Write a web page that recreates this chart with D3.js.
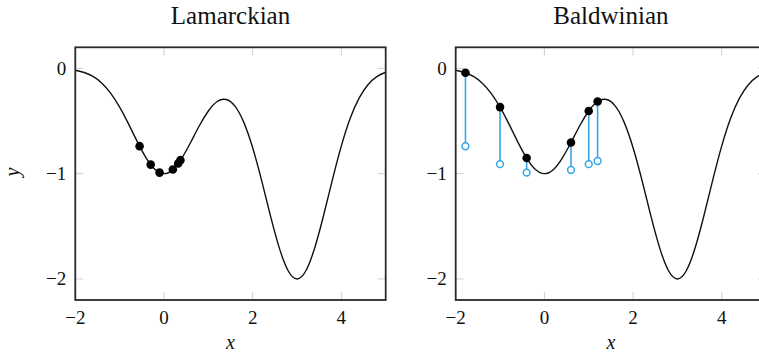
<!DOCTYPE html>
<html lang="en">
<head>
<meta charset="UTF-8">
<title>Lamarckian vs Baldwinian</title>
<script src="https://d3js.org/d3.v7.min.js"></script>
<style>
    body { margin: 0; background: white; }
    text { font-family: "Liberation Serif", "DejaVu Serif", serif; fill: #111; }
</style>
</head>
<body>
<div id="chart"></div>
<script>
    // fitness landscape at steps of 0.2
    const curveX = d3.range(-2, 5.0001, 0.2).map(d => +d.toFixed(1))
    const curveY = [-0.018, -0.039, -0.077, -0.141, -0.237, -0.368, -0.527, -0.698, -0.852, -0.961,
                    -1.000, -0.962, -0.854, -0.704, -0.543, -0.405, -0.315, -0.296, -0.359, -0.513,
                    -0.754, -1.062, -1.399, -1.705, -1.922, -2.000, -1.922, -1.704, -1.395, -1.055,
                    -0.736, -0.474, -0.282, -0.155, -0.078, -0.037]

    // Lamarckian population (moved to the learned point)
    const lamX = [-0.55, -0.3, -0.1, 0.2, 0.32, 0.37]
    const lamY = [-0.739, -0.914, -0.990, -0.961, -0.903, -0.872]

    // Baldwinian population (genotype stays, fitness from learning)
    const balX = [-1.78, -1.0, -0.4, 0.6, 1.0, 1.2]
    const balY = [-0.042, -0.368, -0.852, -0.704, -0.405, -0.315]
    const balLearned = [-0.74, -0.91, -0.99, -0.965, -0.91, -0.88]

    const xTicks = [-2, 0, 2, 4]
    const yTicks = [0, -1, -2]

    const width = 759
    const height = 353
    const plotTop = 47.3, plotBottom = 300
    const panelW = 310.4
    const blue = "#35a6e6"

    const curve = curveX.map((x, i) => ({x: x, y: curveY[i]}))

    const svg = d3.select("#chart").append("svg")
        .attr("width", width)
        .attr("height", height)

    function drawPanel(left, title, id) {
        const xScale = d3.scaleLinear().domain([-2, 5]).range([left, left + panelW])
        const yScale = d3.scaleLinear().domain([-2.2, 0.2]).range([plotBottom, plotTop])
        const g = svg.append("g").attr("class", id)

        g.append("clipPath").attr("id", "clip-" + id)
            .append("rect")
            .attr("x", left).attr("y", plotTop)
            .attr("width", panelW).attr("height", plotBottom - plotTop)

        // light grey tick marks inside the frame on all four sides
        const tickLen = 8
        const ticks = g.append("g").attr("stroke", "#cfcfcf").attr("stroke-width", 1)
        xTicks.forEach(t => {
            ticks.append("line").attr("x1", xScale(t)).attr("x2", xScale(t)).attr("y1", plotBottom).attr("y2", plotBottom - tickLen)
            ticks.append("line").attr("x1", xScale(t)).attr("x2", xScale(t)).attr("y1", plotTop).attr("y2", plotTop + tickLen)
        })
        yTicks.forEach(t => {
            ticks.append("line").attr("x1", left).attr("x2", left + tickLen).attr("y1", yScale(t)).attr("y2", yScale(t))
            ticks.append("line").attr("x1", left + panelW).attr("x2", left + panelW - tickLen).attr("y1", yScale(t)).attr("y2", yScale(t))
        })

        const line = d3.line()
            .x(d => xScale(d.x))
            .y(d => yScale(d.y))
            .curve(d3.curveNatural)

        g.append("path")
            .datum(curve)
            .attr("clip-path", "url(#clip-" + id + ")")
            .attr("fill", "none")
            .attr("stroke", "#111")
            .attr("stroke-width", 1.4)
            .attr("d", line)

        // frame
        g.append("rect")
            .attr("x", left).attr("y", plotTop)
            .attr("width", panelW).attr("height", plotBottom - plotTop)
            .attr("fill", "none")
            .attr("stroke", "#2a2a2a")
            .attr("stroke-width", 1.8)

        // tick labels
        g.selectAll("text.xt").data(xTicks).join("text")
            .attr("class", "xt")
            .attr("x", d => xScale(d))
            .attr("y", plotBottom + 23.5)
            .attr("text-anchor", "middle")
            .style("font-size", "19px")
            .text(d => d3.format("d")(d))

        g.selectAll("text.yt").data(yTicks).join("text")
            .attr("class", "yt")
            .attr("x", left - 9)
            .attr("y", d => yScale(d) + 6.5)
            .attr("text-anchor", "end")
            .style("font-size", "19px")
            .text(d => d3.format("d")(d))

        g.append("text")
            .attr("x", left + panelW / 2)
            .attr("y", 24)
            .attr("text-anchor", "middle")
            .style("font-size", "25px")
            .text(title)

        g.append("text")
            .attr("x", left + panelW / 2)
            .attr("y", 349)
            .attr("text-anchor", "middle")
            .style("font-size", "20px")
            .style("font-style", "italic")
            .text("x")

        return {g: g, xScale: xScale, yScale: yScale}
    }

    const L = drawPanel(75.3, "Lamarckian", "lam")
    const B = drawPanel(455.7, "Baldwinian", "bal")

    // y label only on the left panel
    svg.append("text")
        .attr("transform", "translate(19,172) rotate(-90)")
        .attr("text-anchor", "middle")
        .style("font-size", "20px")
        .style("font-style", "italic")
        .text("y")

    L.g.selectAll("circle.pop").data(lamX).join("circle")
        .attr("class", "pop")
        .attr("cx", d => L.xScale(d))
        .attr("cy", (d, i) => L.yScale(lamY[i]))
        .attr("r", 4.3)
        .attr("fill", "#000")

    B.g.selectAll("line.stem").data(balX).join("line")
        .attr("class", "stem")
        .attr("x1", d => B.xScale(d)).attr("x2", d => B.xScale(d))
        .attr("y1", (d, i) => B.yScale(balY[i]))
        .attr("y2", (d, i) => B.yScale(balLearned[i]))
        .attr("stroke", blue)
        .attr("stroke-width", 1.6)

    B.g.selectAll("circle.learn").data(balX).join("circle")
        .attr("class", "learn")
        .attr("cx", d => B.xScale(d))
        .attr("cy", (d, i) => B.yScale(balLearned[i]))
        .attr("r", 3.4)
        .attr("fill", "white")
        .attr("stroke", blue)
        .attr("stroke-width", 1.5)

    B.g.selectAll("circle.pop").data(balX).join("circle")
        .attr("class", "pop")
        .attr("cx", d => B.xScale(d))
        .attr("cy", (d, i) => B.yScale(balY[i]))
        .attr("r", 4.3)
        .attr("fill", "#000")
</script>
</body>
</html>
